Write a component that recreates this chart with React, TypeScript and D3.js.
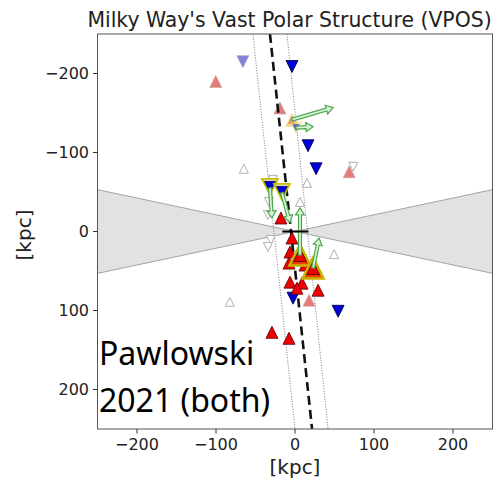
import * as d3 from 'd3';

// satellite positions [x, y] in kpc
const redUp: [number, number][] = [
  [-17.8, -17.1], [-3.8, 8.3], [-6.3, 26], [-7.6, 40], [12.7, 42.5], [-6.3, 64.1],
  [8.9, 65.4], [2.5, 71.7], [29.2, 74.3], [-29.2, 127.6], [-7.6, 135.2],
];
const redHalo: [number, number][] = [[6.3, 29.8], [22.9, 46.3]];
const blueDown: [number, number][] = [
  [-3.8, -208.9], [16.5, -108.6], [26.7, -79.4], [-2.5, 84.4], [54.6, 101],
];
const blueHalo: [number, number][] = [[-31.7, -56.5], [-16.5, -50.2]];
const lightBlueDown: [number, number][] = [[-66, -215]];
const lightRedUp: [number, number][] = [[-100.3, -190], [-19, -156.2], [68.6, -75.6], [17.8, 87]];
const smallHaloRed: [number, number][] = [[-3.8, -141.6]];
const smallHaloBlue: [number, number][] = [[1.3, -131.4]];
const openUp: [number, number][] = [[-64.8, -79.4], [-82.5, 89], [49.5, 28.6], [15.2, -61.6], [6.3, -37.5]];
const openDown: [number, number][] = [
  [73.7, -81.9], [-27.9, -65.4], [-33, -37.5], [-34.3, -21], [-30.5, 10.8], [-34.3, 19.7],
];
// proper motion arrows [x1, y1, x2, y2]
const arrows: [number, number, number, number][] = [
  [-3.8, -141.6, 48.3, -156.8],
  [1.3, -131.4, 22.9, -132.7],
  [-31.7, -55.2, -29.2, -17.1],
  [-16.5, -48.9, -6.3, -11.4],
  [6.3, 29.8, 6.3, -29.8],
  [22.9, 46.3, 30.5, 8.3],
];
// VPOS plane and its width: [xTop, xBottom] at y = -250 / +250
const vposMid = [-31.7, 21.6];
const vposLeft = [-53.3, 0];
const vposRight = [-10.2, 41.9];
const wedgeX = [-250, 0, 250];
const wedgeHalf = [53, 0, 53];
const diskX = [-16, 17];
const ticks = [-200, -100, 0, 100, 200];

const W = 504, H = 482;
const x = d3.scaleLinear().domain([-250, 250]).range([97.5, 492.5]);
const y = d3.scaleLinear().domain([-250, 250]).range([34, 429]);

function tri(cx: number, cy: number, w: number, up: boolean) {
  const h = w / 2;
  const s = up ? 1 : -1;
  return `M${cx},${cy - s * h}L${cx + h},${cy + s * h}L${cx - h},${cy + s * h}Z`;
}

function arrowPath(a: [number, number, number, number]) {
  const x1 = x(a[0]), y1 = y(a[1]), x2 = x(a[2]), y2 = y(a[3]);
  const len = Math.hypot(x2 - x1, y2 - y1);
  const ux = (x2 - x1) / len, uy = (y2 - y1) / len;
  const nx = -uy, ny = ux;
  const hw = 1.5, hh = 4.5, hl = 7;
  const bx = x2 - ux * hl, by = y2 - uy * hl;
  const p = [
    [x1 + nx * hw, y1 + ny * hw], [bx + nx * hw, by + ny * hw], [bx + nx * hh, by + ny * hh],
    [x2, y2], [bx - nx * hh, by - ny * hh], [bx - nx * hw, by - ny * hw], [x1 - nx * hw, y1 - ny * hw],
  ];
  return 'M' + p.map(q => q.join(',')).join('L') + 'Z';
}

export default function App() {
  const axisFont = 'DejaVu Sans, sans-serif';
  const wedgeTop = d3.area<number>()
    .x((_, i) => x(wedgeX[i]))
    .y0((_, i) => y(-wedgeHalf[i]))
    .y1((_, i) => y(wedgeHalf[i]));
  const line = (xs: number[]) => `M${x(xs[0])},${y(-250)}L${x(xs[1])},${y(250)}`;

  return (
    <svg width={W} height={H} style={{ position: 'absolute', left: 0, top: 0, background: '#fff' }}>
      <defs>
        <clipPath id="plot">
          <rect x={x(-250)} y={y(-250)} width={x(250) - x(-250)} height={y(250) - y(-250)} />
        </clipPath>
      </defs>
      <text x={289.5} y={27} textAnchor="middle" fontFamily={axisFont} fontSize={20.4} fill="#222">
        Milky Way's Vast Polar Structure (VPOS)
      </text>
      <g clipPath="url(#plot)">
        <path d={wedgeTop(wedgeX) ?? ''} fill="#e2e2e2" stroke="#9a9a9a" strokeWidth={0.9} />
        <path d={line(vposLeft)} stroke="#555" strokeWidth={0.8} strokeDasharray="1,1.6" fill="none" />
        <path d={line(vposRight)} stroke="#555" strokeWidth={0.8} strokeDasharray="1,1.6" fill="none" />
        {openDown.map((d, i) => (
          <path key={'od' + i} d={tri(x(d[0]), y(d[1]), 9, false)} fill="#fff" stroke="#b0b0b0" strokeWidth={1} />
        ))}
        {openUp.map((d, i) => (
          <path key={'ou' + i} d={tri(x(d[0]), y(d[1]), 9, true)} fill="#fff" stroke="#b0b0b0" strokeWidth={1} />
        ))}
        {lightRedUp.map((d, i) => (
          <path key={'lr' + i} d={tri(x(d[0]), y(d[1]), 12, true)} fill="#e47c7c" stroke="#c8a0a0" strokeWidth={0.6} />
        ))}
        {lightBlueDown.map((d, i) => (
          <path key={'lb' + i} d={tri(x(d[0]), y(d[1]), 12, false)} fill="#8282d6" stroke="#a0a0c8" strokeWidth={0.6} />
        ))}
        <path d={line(vposMid)} stroke="#111" strokeWidth={2.6} strokeDasharray="9,5" fill="none" />
        {smallHaloRed.map((d, i) => (
          <g key={'shr' + i}>
            <path d={tri(x(d[0]), y(d[1]), 14, true)} fill="rgba(240,200,90,0.7)" />
            <path d={tri(x(d[0]), y(d[1]), 8, true)} fill="#e47c7c" />
          </g>
        ))}
        {smallHaloBlue.map((d, i) => (
          <g key={'shb' + i}>
            <path d={tri(x(d[0]), y(d[1]), 13, false)} fill="rgba(235,215,110,0.6)" />
            <path d={tri(x(d[0]), y(d[1]), 7, false)} fill="#5a5ae0" />
          </g>
        ))}
        {blueHalo.map((d, i) => (
          <g key={'bh' + i}>
            <path d={tri(x(d[0]), y(d[1]), 16, false)} fill="#eeeed0" stroke="#c8c000" strokeWidth={1.8} />
            <path d={tri(x(d[0]), y(d[1]), 11, false)} fill="#0000d8" stroke="#000040" strokeWidth={0.7} />
          </g>
        ))}
        {blueDown.map((d, i) => (
          <path key={'bd' + i} d={tri(x(d[0]), y(d[1]), 12, false)} fill="#0000d8" stroke="#000040" strokeWidth={0.8} />
        ))}
        {redUp.map((d, i) => (
          <path key={'ru' + i} d={tri(x(d[0]), y(d[1]), 12, true)} fill="#f00000" stroke="#500000" strokeWidth={0.8} />
        ))}
        {redHalo.map((d, i) => (
          <g key={'rh' + i}>
            <path d={tri(x(d[0]), y(d[1]), 21, true)} fill="#f04000" stroke="#c8b400" strokeWidth={2.5} />
            <path d={tri(x(d[0]), y(d[1]), 13, true)} fill="#f00000" stroke="#500000" strokeWidth={0.8} />
          </g>
        ))}
        {arrows.map((a, i) => (
          <path key={'ar' + i} d={arrowPath(a)} fill="#d8f0d8" stroke="#4aa84a" strokeWidth={1.2} />
        ))}
        <path d={`M${x(diskX[0])},${y(0)}L${x(diskX[1])},${y(0)}`} stroke="#000" strokeWidth={2.2} />
      </g>
      <rect x={x(-250)} y={y(-250)} width={x(250) - x(-250)} height={y(250) - y(-250)} fill="none" stroke="#555" strokeWidth={1} />
      {ticks.map(t => (
        <g key={'xt' + t}>
          <line x1={x(t)} x2={x(t)} y1={y(250)} y2={y(250) + 4.5} stroke="#333" strokeWidth={1} />
          <text x={x(t)} y={450} textAnchor="middle" fontFamily={axisFont} fontSize={16} fill="#222">
            {t < 0 ? '\u2212' + Math.abs(t) : t}
          </text>
          <line x1={x(-250) - 4.5} x2={x(-250)} y1={y(t)} y2={y(t)} stroke="#333" strokeWidth={1} />
          <text x={89} y={y(t)} dy="0.36em" textAnchor="end" fontFamily={axisFont} fontSize={16} fill="#222">
            {t < 0 ? '\u2212' + Math.abs(t) : t}
          </text>
        </g>
      ))}
      <text x={295} y={474} textAnchor="middle" fontFamily={axisFont} fontSize={20} fill="#222">[kpc]</text>
      <text transform={`translate(31,235) rotate(-90)`} textAnchor="middle" fontFamily={axisFont} fontSize={20} fill="#222">[kpc]</text>
      <text x={99} y={365} fontFamily="Noto Sans, sans-serif" fontSize={32} fill="#000">Pawlowski</text>
      <text x={99} y={412} fontFamily="Noto Sans, sans-serif" fontSize={32} fill="#000">2021 (both)</text>
    </svg>
  );
}
